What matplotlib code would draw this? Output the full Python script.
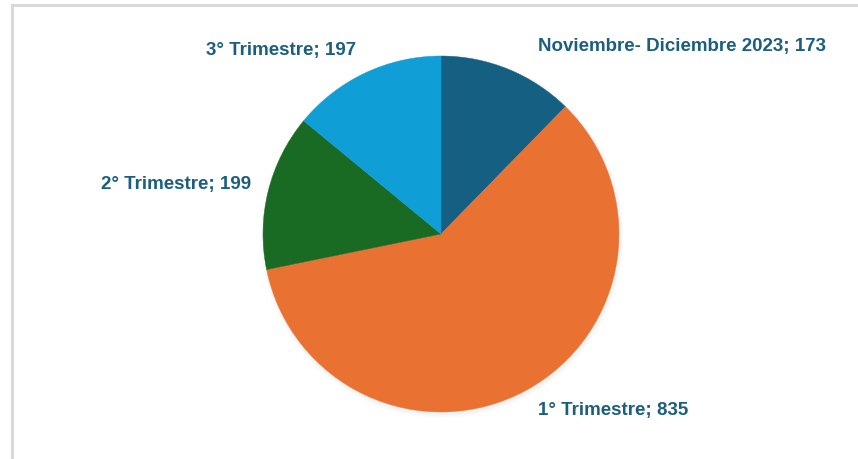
import matplotlib
matplotlib.use("Agg")
import matplotlib.pyplot as plt
from matplotlib import font_manager
from matplotlib.lines import Line2D

categories = ["Noviembre- Diciembre 2023", "1° Trimestre", "2° Trimestre", "3° Trimestre"]
values = [173, 835, 199, 197]
colors = ["#156082", "#E97132", "#196B24", "#0F9ED5"]

names = {f.name for f in font_manager.fontManager.ttflist}
fam = "Liberation Sans Narrow" if "Liberation Sans Narrow" in names else "Liberation Sans"

W, H = 858, 459
fig = plt.figure(figsize=(W / 100, H / 100), dpi=100)
ax = fig.add_axes([0, 0, 1, 1])

cx, cy, r = 441, H - 234, 178
# faint soft shadow
for i in range(4):
    c = plt.Circle((cx + 1, cy - 2), r + 4 - i, color="black", alpha=0.012, lw=0)
    ax.add_patch(c)

wedges, _ = ax.pie(values, colors=colors, startangle=90, counterclock=False,
                   center=(cx, cy), radius=r, frame=True,
                   wedgeprops=dict(linewidth=0))
for w, col in zip(wedges, colors):
    w.set_edgecolor(col)
    w.set_linewidth(0.3)
ax.set_xlim(0, W)
ax.set_ylim(0, H)
ax.set_aspect("equal")
ax.axis("off")

label_pos = [(538, 46, "left"), (538, 411, "left"), (251, 185, "right"), (356, 50, "right")]
for (x, y, ha), cat, v in zip(label_pos, categories, values):
    ax.text(x, H - y, f"{cat}; {v}", ha=ha, va="center", color="#1B5E7E",
            fontsize=13.5, fontweight="bold", family=fam)

fig.add_artist(Line2D([11.5 / W, 1], [1 - 4.5 / H, 1 - 4.5 / H], color="#D9D9D9", lw=2.2))
fig.add_artist(Line2D([11.5 / W, 11.5 / W], [0, 1 - 4.5 / H], color="#D9D9D9", lw=2.2))

fig.savefig("out.png", dpi=100, facecolor="white")
